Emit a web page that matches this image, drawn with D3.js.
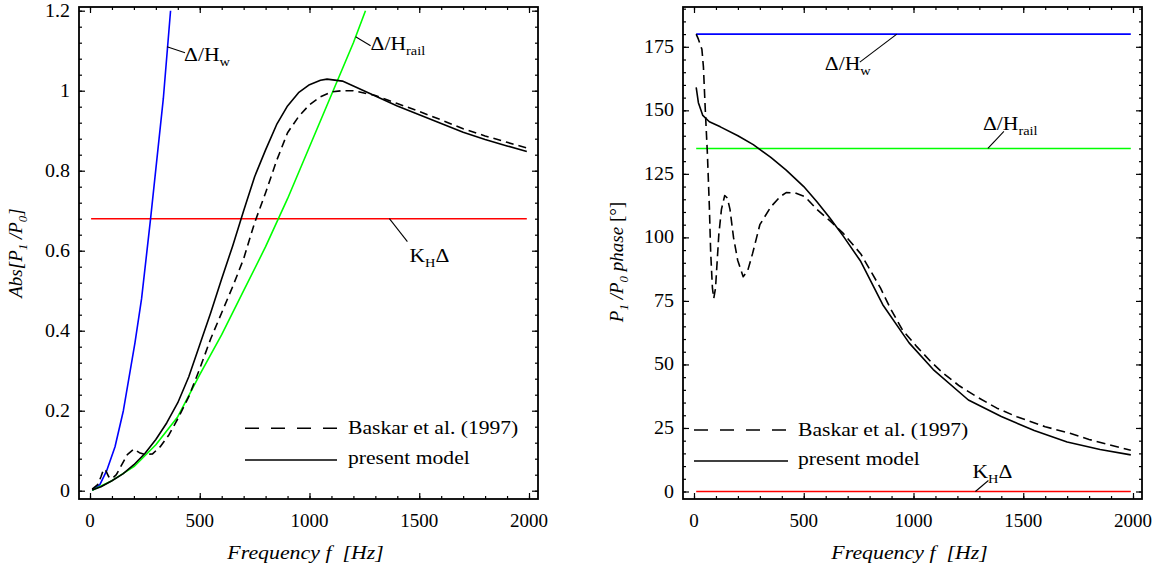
<!DOCTYPE html>
<html>
<head>
<meta charset="utf-8">
<script src="https://cdn.jsdelivr.net/npm/d3@7/dist/d3.min.js"></script>
<style>
body { margin: 0; background: #fff; }
text { font-family: "Liberation Serif", "Times New Roman", serif; fill: #000; white-space: pre; }
</style>
</head>
<body>
<svg id="chart" width="1168" height="573"></svg>
<script>
// shared frequency axis
const freqTicks = [0, 500, 1000, 1500, 2000]
const freqTickLabels = ["0", "500", "1000", "1500", "2000"]

// left panel: Abs[P1/P0]
const magTicks = [0, 0.2, 0.4, 0.6, 0.8, 1, 1.2]
const magTickLabels = ["0", "0.2", "0.4", "0.6", "0.8", "1", "1.2"]
const magWheel = [[10, 0.001], [45, 0.015], [76, 0.05], [114, 0.11], [152, 0.2], [205, 0.37], [235, 0.48], [276, 0.68], [334, 0.98], [367, 1.2]]
const magRail = [[10, 0.001], [100, 0.025], [200, 0.06], [300, 0.115], [400, 0.185], [500, 0.29], [600, 0.39], [700, 0.5], [800, 0.61], [900, 0.73], [1000, 0.86], [1100, 0.99], [1200, 1.12], [1255, 1.2]]
const magKH = 0.68
const magModel = [[10, 0.002], [50, 0.01], [100, 0.025], [150, 0.042], [200, 0.065], [250, 0.093], [300, 0.128], [350, 0.17], [400, 0.22], [450, 0.285], [500, 0.365], [550, 0.445], [600, 0.53], [650, 0.612], [700, 0.7], [750, 0.785], [800, 0.852], [850, 0.915], [900, 0.962], [950, 0.995], [1000, 1.015], [1050, 1.026], [1080, 1.029], [1150, 1.024], [1200, 1.012], [1300, 0.987], [1400, 0.962], [1500, 0.94], [1600, 0.918], [1700, 0.896], [1800, 0.878], [1900, 0.862], [1990, 0.848]]
const magBaskar = [[10, 0.004], [35, 0.015], [50, 0.035], [62, 0.054], [72, 0.05], [85, 0.035], [100, 0.03], [120, 0.04], [145, 0.065], [170, 0.09], [200, 0.104], [225, 0.095], [255, 0.09], [285, 0.092], [320, 0.11], [360, 0.14], [400, 0.18], [450, 0.235], [500, 0.305], [550, 0.38], [600, 0.445], [650, 0.51], [700, 0.58], [750, 0.67], [800, 0.745], [850, 0.825], [900, 0.895], [950, 0.935], [1000, 0.965], [1050, 0.985], [1100, 0.997], [1150, 1.0], [1200, 1.0], [1300, 0.988], [1400, 0.968], [1500, 0.948], [1600, 0.927], [1700, 0.905], [1800, 0.887], [1900, 0.871], [1990, 0.857]]

// right panel: P1/P0 phase
const phaseTicks = [0, 25, 50, 75, 100, 125, 150, 175]
const phaseTickLabels = ["0", "25", "50", "75", "100", "125", "150", "175"]
const phaseWheel = 180
const phaseRail = 135
const phaseKH = 0
const phaseModel = [[10, 159], [20, 153], [40, 148], [70, 145.5], [120, 143.5], [200, 140], [270, 136.5], [350, 131.5], [420, 126.5], [500, 120], [560, 114], [620, 107.5], [680, 100.5], [760, 90.5], [860, 73.5], [980, 58.5], [1090, 48], [1250, 36], [1400, 29.5], [1550, 24], [1700, 19.5], [1850, 16.5], [1990, 14.4]]
const phaseBaskar = [[10, 180], [20, 178], [36, 174], [43, 167], [51, 151], [61, 133], [70, 112], [76, 94], [84, 80], [90, 76], [98, 80], [113, 101], [125, 111], [140, 116.5], [152, 115.5], [164, 111], [180, 100], [199, 91], [224, 84.5], [245, 87], [267, 93.7], [300, 105], [350, 112], [392, 116], [420, 117.6], [460, 117.5], [506, 116], [560, 111], [620, 106.5], [680, 101.6], [760, 93.5], [850, 80], [895, 72], [950, 63.5], [1015, 57], [1080, 51], [1136, 46.5], [1210, 41.5], [1288, 37.3], [1380, 32.8], [1471, 29.4], [1600, 25.5], [1713, 22.9], [1800, 20.5], [1900, 18.2], [1990, 16.2]]
const lineStart = 10, lineEnd = 1990

const frameW = 459, frameH = 492

const svg = d3.select('#chart')

// text with optional subscripts; sx stretches it sideways like the original lettering
function addText(g, x, y, parts, anchor, size, italic, sx) {
    let t = g.append("text")
        .attr("transform", `translate(${x},${y}) scale(${sx || 1.2},1)`)
        .attr("text-anchor", anchor || "start")
        .attr("font-size", size || 18)
    if (italic) t.attr("font-style", "italic")
    parts.forEach(function (p) {
        let s = t.append("tspan").text(p.t)
        if (p.sub) s.attr("font-size", 12).attr("dy", 5)
        else if (p.after) s.attr("dy", -5)
    })
    return t
}

function drawFrame(g, x, y, yTicks, yLabels, yMinor) {
    let freqMinor = d3.range(0, 2001, 100)
    let axes = g.append("g")
    axes.append("g").attr("transform", `translate(0,${frameH})`)
        .call(d3.axisBottom(x).tickValues(freqMinor).tickSize(-3).tickFormat(""))
    axes.append("g").attr("transform", `translate(0,${frameH})`)
        .call(d3.axisBottom(x).tickValues(freqTicks).tickSize(-6).tickFormat(""))
    axes.append("g").call(d3.axisTop(x).tickValues(freqMinor).tickSize(-3).tickFormat(""))
    axes.append("g").call(d3.axisTop(x).tickValues(freqTicks).tickSize(-6).tickFormat(""))
    axes.append("g").call(d3.axisLeft(y).tickValues(yMinor).tickSize(-3).tickFormat(""))
    axes.append("g").call(d3.axisLeft(y).tickValues(yTicks).tickSize(-6).tickFormat(""))
    axes.append("g").attr("transform", `translate(${frameW},0)`)
        .call(d3.axisRight(y).tickValues(yMinor).tickSize(-3).tickFormat(""))
    axes.append("g").attr("transform", `translate(${frameW},0)`)
        .call(d3.axisRight(y).tickValues(yTicks).tickSize(-6).tickFormat(""))
    axes.selectAll(".domain").remove()
    axes.selectAll(".tick line").attr("stroke", "#000").attr("stroke-width", 1.2)

    g.append("rect")
        .attr("width", frameW).attr("height", frameH)
        .attr("fill", "none").attr("stroke", "#000").attr("stroke-width", 1.8)

    freqTicks.forEach(function (t, i) { addText(g, x(t), frameH + 28, [{t: freqTickLabels[i]}], "middle", 19, false, 1) })
    yTicks.forEach(function (t, i) { addText(g, -9, y(t) + 6, [{t: yLabels[i]}], "end", 19, false, 1.05) })

    addText(g, frameW / 2 - 3, frameH + 60, [{t: "Frequency f  [Hz]"}], "middle", 19, true, 1.15)
}

function drawCurve(g, x, y, data, color, dash) {
    let line = d3.line().x(function (d) { return x(d[0]) }).y(function (d) { return y(d[1]) })
    let p = g.append("path")
        .datum(data)
        .attr("d", line)
        .attr("fill", "none")
        .attr("stroke", color)
        .attr("stroke-width", 1.6)
        .attr("stroke-linejoin", "round")
    if (dash) p.attr("stroke-dasharray", dash)
}

function drawNote(g, x, y, anchor, lineEnd, textPos, parts) {
    let ax = x(anchor[0]), ay = y(anchor[1])
    g.append("line")
        .attr("x1", ax).attr("y1", ay)
        .attr("x2", ax + lineEnd[0]).attr("y2", ay + lineEnd[1])
        .attr("stroke", "#000").attr("stroke-width", 1.1)
    addText(g, ax + textPos[0], ay + textPos[1], parts, "start", 18)
}

function drawLegend(g, lx1, lx2, ly1, ly2, tx) {
    g.append("line").attr("x1", lx1).attr("x2", lx2).attr("y1", ly1).attr("y2", ly1)
        .attr("stroke", "#000").attr("stroke-width", 1.5).attr("stroke-dasharray", "14,12")
    g.append("line").attr("x1", lx1).attr("x2", lx2).attr("y1", ly2).attr("y2", ly2)
        .attr("stroke", "#000").attr("stroke-width", 1.5)
    addText(g, tx, ly1 + 6, [{t: "Baskar et al. (1997)"}], "start", 18)
    addText(g, tx, ly2 + 4, [{t: "present model"}], "start", 18)
}

const dH = [{t: "\u0394/H"}]

// ---------- left panel ----------
let gL = svg.append("g").attr("transform", "translate(79,7)")
let xL = d3.scaleLinear().domain([0, 2000]).range([11, 450])
let yL = d3.scaleLinear().domain([0, 1.2]).range([483.7, 3.7])

drawCurve(gL, xL, yL, [[5, magKH], [lineEnd, magKH]], "#ff0000")
drawCurve(gL, xL, yL, magWheel, "#0000ff")
drawCurve(gL, xL, yL, magRail, "#00ff00")
drawCurve(gL, xL, yL, magBaskar, "#000", "8,5")
drawCurve(gL, xL, yL, magModel, "#000")

drawNote(gL, xL, yL, [351, 1.11], [18, 6], [17, 14], dH.concat([{t: "w", sub: true}]))
drawNote(gL, xL, yL, [1210, 1.135], [15, 9], [15, 13], dH.concat([{t: "rail", sub: true}]))
drawNote(gL, xL, yL, [1364, magKH], [18, 23], [20, 43], [{t: "K"}, {t: "H", sub: true}, {t: "\u0394", after: true}])

drawLegend(gL, 166, 258, 421.3, 453, 269)
drawFrame(gL, xL, yL, magTicks, magTickLabels, d3.range(0, 1.21, 0.04))

gL.append("text")
    .attr("transform", "translate(-57,246) rotate(-90)")
    .attr("text-anchor", "middle").attr("font-size", 19).attr("font-style", "italic")
    .call(function (t) {
        t.append("tspan").text("Abs[P")
        t.append("tspan").text("1").attr("font-size", 13).attr("dy", 5)
        t.append("tspan").text(" /P").attr("dy", -5)
        t.append("tspan").text("0").attr("font-size", 13).attr("dy", 5)
        t.append("tspan").text("]").attr("dy", -5)
    })

// ---------- right panel ----------
let gR = svg.append("g").attr("transform", "translate(683,7)")
let xR = d3.scaleLinear().domain([0, 2000]).range([11, 450])
let yR = d3.scaleLinear().domain([0, 175]).range([484.5, 39.8])

drawCurve(gR, xR, yR, [[lineStart, phaseKH], [lineEnd, phaseKH]], "#ff0000")
drawCurve(gR, xR, yR, [[lineStart, phaseWheel], [lineEnd, phaseWheel]], "#0000ff")
drawCurve(gR, xR, yR, [[lineStart, phaseRail], [lineEnd, phaseRail]], "#00ff00")
drawCurve(gR, xR, yR, phaseBaskar, "#000", "9,5")
drawCurve(gR, xR, yR, phaseModel, "#000")

drawNote(gR, xR, yR, [924, phaseWheel], [-37, 28], [-72, 36], dH.concat([{t: "w", sub: true}]))
drawNote(gR, xR, yR, [1339, phaseRail], [16, -17], [-5, -18], dH.concat([{t: "rail", sub: true}]))
drawNote(gR, xR, yR, [1282, phaseKH], [13, -11], [-3, -14], [{t: "K"}, {t: "H", sub: true}, {t: "\u0394", after: true}])

drawLegend(gR, 11, 105, 423, 454, 115)
drawFrame(gR, xR, yR, phaseTicks, phaseTickLabels, d3.range(0, 191, 5))

gR.append("text")
    .attr("transform", "translate(-60,255) rotate(-90)")
    .attr("text-anchor", "middle").attr("font-size", 19).attr("font-style", "italic")
    .call(function (t) {
        t.append("tspan").text("P")
        t.append("tspan").text("1").attr("font-size", 13).attr("dy", 5)
        t.append("tspan").text(" /P").attr("dy", -5)
        t.append("tspan").text("0").attr("font-size", 13).attr("dy", 5)
        t.append("tspan").text(" phase ").attr("dy", -5)
        t.append("tspan").text("[\u00b0]").attr("font-style", "normal")
    })
</script>
</body>
</html>
